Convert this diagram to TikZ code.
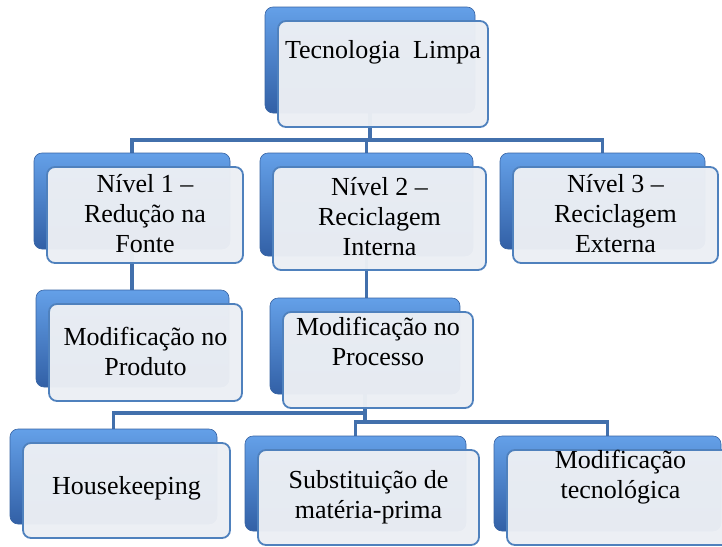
\documentclass[tikz,border=0pt]{standalone}
\usepackage{fontspec}
\setmainfont{Liberation Serif}
\pgfdeclarelayer{bg}
\pgfsetlayers{bg,main}
\definecolor{linkblue}{RGB}{66,112,172}
\definecolor{frontedge}{RGB}{79,129,189}
\definecolor{frontfill}{RGB}{236,239,244}
\definecolor{backtop}{RGB}{100,160,232}
\definecolor{backmid}{RGB}{68,126,204}
\definecolor{backbot}{RGB}{50,96,166}
\definecolor{backedge}{RGB}{56,100,164}
\tikzset{
  backbox/.style={rectangle, rounded corners=8pt, inner sep=0pt, outer sep=0pt,
    top color=backtop, middle color=backmid, bottom color=backbot, draw=backedge, line width=0.6pt},
  frontbox/.style={rectangle, rounded corners=8pt, inner sep=0pt, outer sep=0pt,
    fill=frontfill, fill opacity=0.97, draw=frontedge, line width=1.8pt},
  lbl/.style={align=center, inner sep=0pt, text=black, font=\fontsize{26}{30}\selectfont},
  link/.style={draw=linkblue, line width=3.2pt}
}
\newcommand\boxpair[7]{%
  \pgfmathsetmacro\bw{#4-#2}\pgfmathsetmacro\bh{#5-#3}%
  \node[backbox, minimum width=\bw pt, minimum height=\bh pt, anchor=north west] (#1b) at (#2-13,#3-14) {};
  \node[frontbox, minimum width=\bw pt, minimum height=\bh pt, anchor=north west] (#1) at (#2,#3) {};
  \node[lbl] (#1t) at ({(#2+#4)/2},#6) {#7};
}
\begin{document}
\begin{tikzpicture}[x=1pt,y=-1pt]
\clip (0,0) rectangle (722,546);
\begin{pgfonlayer}{bg}
\fill[white] (0,0) rectangle (722,546);
\end{pgfonlayer}
\boxpair{tl}{278}{21}{488}{127}{52}{Tecnologia\ \ Limpa}
\boxpair{na}{47}{167}{243}{263}{214}{Nível 1 –\\Redução na\\Fonte}
\boxpair{nb}{273}{167}{486}{270}{217}{Nível 2 –\\Reciclagem\\Interna}
\boxpair{nc}{513}{167}{718}{263}{214}{Nível 3 –\\Reciclagem\\Externa}
\boxpair{pd}{49}{304}{242}{401}{351}{Modificação no\\Produto}
\boxpair{pc}{283}{312}{473}{408}{341}{Modificação no\\Processo}
\boxpair{hk}{23}{443}{230}{538}{488}{Housekeeping}
\boxpair{sb}{258}{450}{479}{545}{497}{Substituição de\\matéria-prima}
\boxpair{tc}{507}{450}{734}{545}{477}{Modificação\\tecnológica}
\coordinate (bus1) at (0,140);
\coordinate (bus2) at (0,413);
\coordinate (bus3) at (0,422);
\begin{pgfonlayer}{bg}
\draw[link] (tlb.south) -- (tlb.south |- bus1) -| (nab.north);
\draw[link] (tlb.south |- bus1) -| (nbb.north);
\draw[link] (tlb.south |- bus1) -| (ncb.north);
\draw[link] (nab.south) -- (nab.south |- pdb.north);
\draw[link] (nbb.south) -- (nbb.south |- pcb.north);
\draw[link] (pcb.south) -- (pcb.south |- bus2) -| (hkb.north);
\draw[link] (pcb.south |- bus2) -- (pcb.south |- bus3) -| (sbb.north);
\draw[link] (pcb.south |- bus3) -| (tcb.north);
\end{pgfonlayer}
\end{tikzpicture}
\end{document}
